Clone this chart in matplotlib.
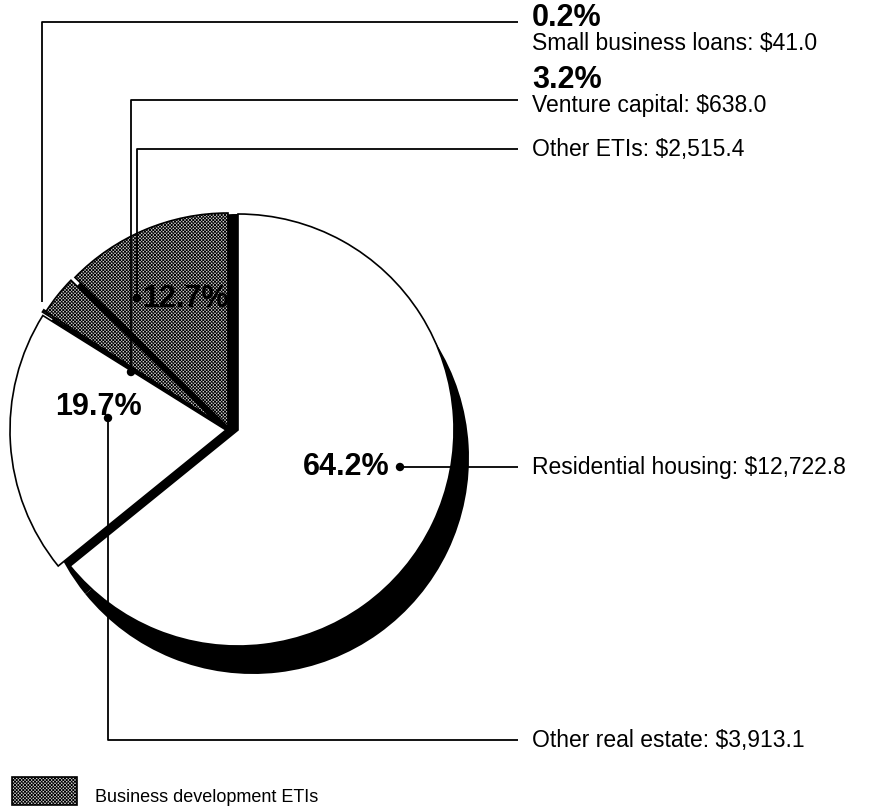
import matplotlib
matplotlib.use("Agg")
import matplotlib.pyplot as plt
from matplotlib.patches import Rectangle, Circle

# ETI holdings, in millions of dollars
categories = ["Residential housing", "Other real estate", "Small business loans",
              "Venture capital", "Other ETIs"]
amounts = [12722.8, 3913.1, 41.0, 638.0, 2515.4]
shares = ["64.2%", "19.7%", "0.2%", "3.2%", "12.7%"]
amount_labels = ["$12,722.8", "$3,913.1", "$41.0", "$638.0", "$2,515.4"]
business_dev = [False, False, True, True, True]
legend_label = "Business development ETIs"

W, H = 872, 809
plt.rcParams['font.family'] = ['Liberation Sans', 'DejaVu Sans']
plt.rcParams['hatch.linewidth'] = 0.6

fig = plt.figure(figsize=(W / 100, H / 100), dpi=100)
ax = fig.add_axes([0, 0, 1, 1])


def Y(y):
    return H - y


cx, cy, R = 238, 430, 216
HATCH = 'x' * 10
GRAY = '#cfcfcf'
common = dict(startangle=90, counterclock=False, radius=R)

# drop shadow and dark base behind the slices
ax.pie(amounts, colors=['black'] * 5, center=(cx + 15, Y(cy + 28)),
       wedgeprops=dict(lw=0), **common)
ax.pie(amounts, colors=['black'] * 5, center=(cx, Y(cy)),
       wedgeprops=dict(lw=0), **common)
wedges, _ = ax.pie(amounts, colors=['white'] * 5, center=(cx, Y(cy)),
                   wedgeprops=dict(edgecolor='black', lw=1.2), **common)

# pull the smaller slices apart so the dark base shows between them
offsets = [(0, 0), (-12, 0), (-26, -12), (-24, -10), (-10, -3)]
radii = [216, 216, 200, 200, 214]
for w, (dx, dy), r, bd in zip(wedges, offsets, radii, business_dev):
    w.set_center((cx + dx, Y(cy + dy)))
    w.set_radius(r)
    if bd:
        w.set_facecolor(GRAY)
        w.set_hatch(HATCH)

LW = 1.3
BIG = dict(fontsize=22, fontweight='bold', color='black')
SMALL = dict(fontsize=16.5, color='black')
TX = 532


def leader(pts, dot=True):
    xs = [p[0] for p in pts]
    ys = [Y(p[1]) for p in pts]
    ax.plot(xs, ys, color='black', lw=LW, solid_capstyle='butt', zorder=6)
    if dot:
        ax.add_patch(Circle((xs[0], ys[0]), 3.5, color='black', zorder=7))


# Small business loans
leader([(42, 302), (42, 22), (518, 22)], dot=False)
ax.text(TX, Y(18), shares[2], va='center', ha='left', **BIG)
ax.text(TX, Y(43), f"{categories[2]}: {amount_labels[2]}", va='center', ha='left', **SMALL)

# Venture capital
leader([(131, 372), (131, 100), (518, 100)])
ax.text(TX, Y(80), shares[3], va='center', ha='left', **BIG)
ax.text(TX, Y(105), f"{categories[3]}: {amount_labels[3]}", va='center', ha='left', **SMALL)

# Other ETIs
leader([(137, 298), (137, 149), (518, 149)])
ax.text(TX, Y(149), f"{categories[4]}: {amount_labels[4]}", va='center', ha='left', **SMALL)
ax.text(142, Y(299), shares[4], va='center', ha='left', zorder=8, **BIG)

# Residential housing
leader([(400, 467), (518, 467)])
ax.text(389, Y(467), shares[0], va='center', ha='right', **BIG)
ax.text(TX, Y(467), f"{categories[0]}: {amount_labels[0]}", va='center', ha='left', **SMALL)

# Other real estate
leader([(108, 418), (108, 740), (518, 740)])
ax.text(98, Y(407), shares[1], va='center', ha='center', zorder=8, **BIG)
ax.text(TX, Y(740), f"{categories[1]}: {amount_labels[1]}", va='center', ha='left', **SMALL)

# Legend swatch
ax.add_patch(Rectangle((12, Y(805)), 65, 28, facecolor=GRAY, edgecolor='black',
                       hatch=HATCH, lw=1.2))
ax.text(95, Y(797), legend_label, va='center', ha='left', fontsize=13, color='black')

ax.set_xlim(0, W)
ax.set_ylim(0, H)
ax.set_aspect('equal')
ax.axis('off')
fig.savefig('out.png', dpi=100, facecolor='white')
